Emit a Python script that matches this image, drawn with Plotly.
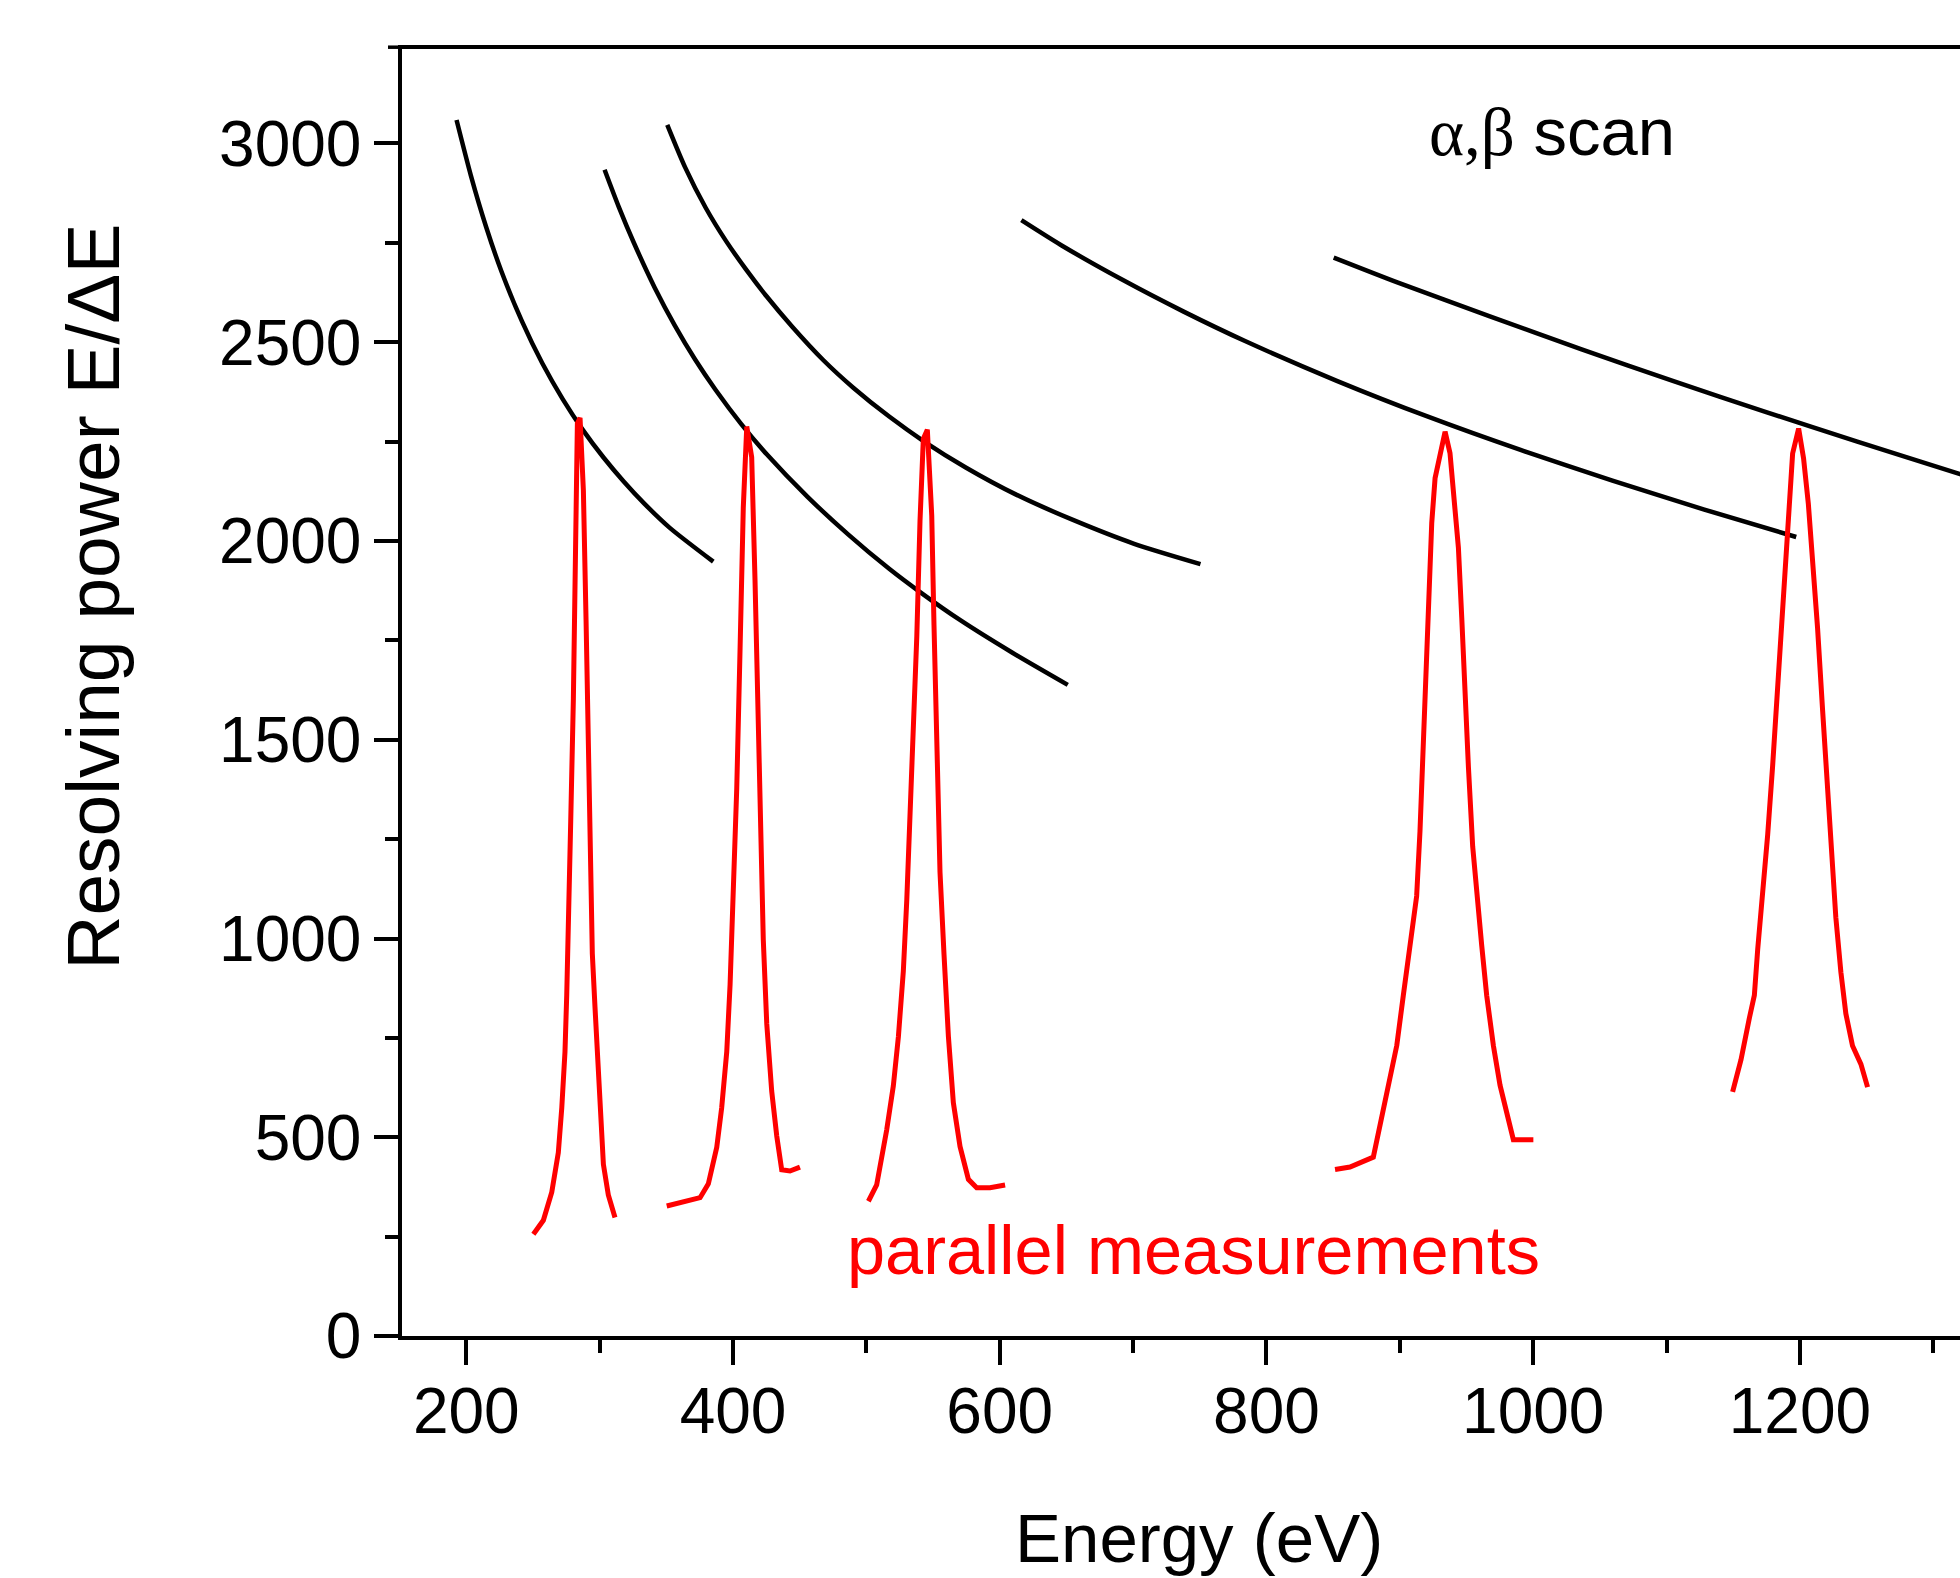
import plotly.graph_objects as go

# ---- alpha,beta scan curves (black) ----
scan1_x = [192.7, 203.4, 214.9, 226.4, 241.7, 257.0, 272.3, 287.5, 302.9, 318.2, 333.5, 352.6, 385.2]
scan1_y = [3059, 2920, 2790, 2678, 2553, 2447, 2357, 2279, 2210, 2149, 2094, 2033, 1948]

scan2_x = [303.7, 314.4, 325.8, 341.2, 356.4, 371.7, 387.0, 406.2, 425.3, 455.9, 486.5, 517.1, 540.0, 570.7, 608.9, 651.0]
scan2_y = [2934, 2840, 2749, 2638, 2542, 2456, 2380, 2294, 2218, 2111, 2016, 1930, 1872, 1800, 1720, 1638]

scan3_x = [350.7, 364.1, 379.4, 394.7, 410.0, 425.3, 444.4, 467.4, 490.4, 517.1, 543.9, 574.5, 612.7, 654.9, 700.8, 750.5]
scan3_y = [3047, 2940, 2839, 2755, 2682, 2615, 2539, 2456, 2385, 2313, 2249, 2185, 2116, 2053, 1993, 1942]

scan4_x = [616.2, 646.1, 692.0, 737.9, 783.9, 852.7, 921.6, 990.5, 1059.4, 1128.3, 1197.2]
scan4_y = [2807, 2744, 2657, 2577, 2503, 2403, 2312, 2229, 2152, 2079, 2010]

scan5_x = [850.4, 898.6, 967.5, 1036.3, 1105.2, 1174.1, 1243.0, 1320.1, 1340.0]
scan5_y = [2713, 2650, 2565, 2482, 2402, 2325, 2250, 2168, 2147]

# ---- parallel measurements (red) ----
peak1_x = [250.3, 257.8, 264.1, 269.0, 271.6, 274.0, 275.3, 277.0, 278.3, 280.3, 281.5, 283.3, 285.3,
           287.8, 289.8, 291.5, 292.8, 294.5, 296.5, 298.5, 300.3, 302.8, 306.5, 311.5]
peak1_y = [256, 291, 362, 461, 574, 715, 856, 1054, 1294, 1604, 1957, 2296, 2310,
           2127, 1802, 1463, 1181, 962, 828, 694, 545, 432, 355, 298]

peak2_x = [350.3, 375.3, 381.5, 387.8, 391.5, 395.3, 397.8, 400.2, 402.8, 405.3, 407.7, 410.3,
           414.0, 416.5, 419.0, 420.8, 422.7, 425.3, 429.0, 432.8, 436.5, 442.7, 450.2]
peak2_y = [327, 348, 383, 475, 574, 715, 884, 1110, 1378, 1731, 2084, 2288,
           2211, 1901, 1534, 1209, 997, 785, 616, 503, 418, 415, 425]

peak3_x = [501.5, 507.7, 515.2, 520.2, 524.0, 527.7, 530.3, 532.7, 535.2, 537.8, 540.2, 542.7, 545.7,
           549.0, 550.7, 552.8, 555.2, 558.2, 561.5, 565.2, 570.2, 576.5, 582.7, 592.7, 604.0]
peak3_y = [339, 380, 518, 629, 753, 918, 1098, 1305, 1512, 1760, 2050, 2257, 2280,
           2064, 1788, 1443, 1167, 960, 753, 587, 477, 394, 373, 373, 380]

peak4_x = [851.4, 862.6, 880.1, 885.1, 891.4, 897.7, 902.6, 907.6, 912.6, 915.1, 917.6, 919.6, 921.4,
           923.9, 926.4, 930.1, 933.9, 937.6, 940.6, 943.9, 946.4, 948.9, 951.4, 954.6, 957.6, 961.4,
           965.1, 970.1, 975.1, 980.1, 985.1, 1000.1]
peak4_y = [419, 425, 450, 531, 631, 731, 857, 982, 1107, 1270, 1482, 1658, 1858,
           2045, 2158, 2221, 2275, 2221, 2121, 1983, 1808, 1608, 1432, 1232, 1107, 982,
           857, 731, 631, 556, 494, 494]

peak5_x = [1149.5, 1155.8, 1162.0, 1165.8, 1168.3, 1172.0, 1175.8, 1179.5, 1182.8, 1185.8, 1188.8,
           1191.3, 1194.5, 1199.0, 1202.7, 1206.3, 1209.5, 1213.2, 1217.0, 1220.7, 1223.7, 1226.9,
           1230.7, 1234.4, 1239.4, 1245.7, 1250.7]
peak5_y = [614, 695, 799, 857, 972, 1111, 1261, 1434, 1608, 1781, 1931,
           2081, 2220, 2283, 2208, 2093, 1954, 1781, 1573, 1377, 1203, 1053,
           915, 811, 730, 684, 626]

x_ticks = [200, 400, 600, 800, 1000, 1200]
y_ticks = [0, 500, 1000, 1500, 2000, 2500, 3000]

FONT = "Liberation Sans, Arial, sans-serif"

fig = go.Figure()

for sx, sy in [(scan1_x, scan1_y), (scan2_x, scan2_y), (scan3_x, scan3_y),
               (scan4_x, scan4_y), (scan5_x, scan5_y)]:
    fig.add_trace(go.Scatter(x=sx, y=sy, mode="lines",
                             line=dict(color="black", width=4.5, shape="spline", smoothing=0.7),
                             hoverinfo="skip"))

for px, py in [(peak1_x, peak1_y), (peak2_x, peak2_y), (peak3_x, peak3_y),
               (peak4_x, peak4_y), (peak5_x, peak5_y)]:
    fig.add_trace(go.Scatter(x=px, y=py, mode="lines",
                             line=dict(color="#ff0000", width=5),
                             hoverinfo="skip"))

fig.update_layout(
    width=1960, height=1578, autosize=False,
    margin=dict(l=402, r=0, t=49, b=242, pad=0),
    paper_bgcolor="white", plot_bgcolor="white",
    showlegend=False,
    font=dict(family=FONT, color="black", size=64),
)

fig.update_xaxes(
    range=[151.8, 1320.0], showgrid=False, zeroline=False,
    showline=True, linecolor="black", linewidth=3.5, mirror=True,
    ticks="outside", ticklen=25, tickwidth=3.5, tickcolor="black",
    tickvals=x_ticks, ticktext=[str(v) for v in x_ticks],
    tickfont=dict(family=FONT, size=64, color="black"),
    ticklabelstandoff=-9,
    minor=dict(dtick=100, tick0=0, ticks="outside", ticklen=13, tickwidth=3.5, tickcolor="black"),
)
fig.update_yaxes(
    range=[0, 3237.7], showgrid=False, zeroline=False,
    showline=True, linecolor="black", linewidth=3.5, mirror=False,
    ticks="outside", ticklen=24, tickwidth=3.5, tickcolor="black",
    tickvals=y_ticks, ticktext=[str(v) for v in y_ticks],
    tickfont=dict(family=FONT, size=64, color="black"),
    minor=dict(dtick=250, tick0=0, ticks="outside", ticklen=13, tickwidth=3.5, tickcolor="black"),
)

# small overhang of the top frame line to the left of the y axis
fig.add_shape(type="line", xref="paper", yref="paper", x0=-0.009, x1=0, y0=1.0014, y1=1.0014,
              line=dict(color="black", width=3.5))

# axis titles
fig.add_annotation(text="Energy (eV)", xref="paper", yref="paper", x=0.5115, y=-0.1575,
                   xanchor="center", yanchor="middle", showarrow=False,
                   font=dict(family=FONT, size=69, color="black"))
fig.add_annotation(text="Resolving power E/\u0394E", xref="paper", yref="paper", x=-0.198, y=0.574,
                   xanchor="center", yanchor="middle", textangle=-90, showarrow=False,
                   font=dict(family=FONT, size=75, color="black"))

# labels inside the plot
fig.add_annotation(text="<span style=\"font-family:'Liberation Serif'\">\u03b1,\u03b2</span> scan",
                   x=1014, y=3030, xref="x", yref="y", xanchor="center", yanchor="middle",
                   showarrow=False, font=dict(family=FONT, size=67, color="black"))
fig.add_annotation(text="parallel measurements", x=745.6, y=214, xref="x", yref="y",
                   xanchor="center", yanchor="middle", showarrow=False,
                   font=dict(family=FONT, size=68.5, color="#ff0000"))

fig.write_html("out.html", config={"displayModeBar": False},
               post_script="document.body.style.margin='0';")
